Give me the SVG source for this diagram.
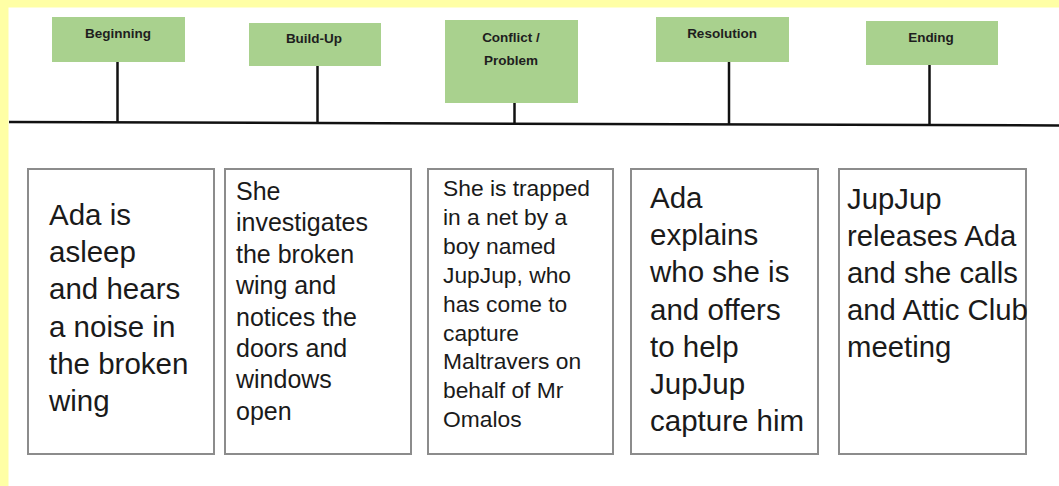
<svg xmlns="http://www.w3.org/2000/svg" width="1059" height="486" viewBox="0 0 1059 486">
  <style>
    .label { fill: #a9d18e; }
    .ltext { font-family: "Liberation Sans", Arial, sans-serif; font-weight: bold; font-size: 13.5px; fill: #1e1e1e; text-anchor: middle; }
    .card { fill: #ffffff; stroke: #8c8c8c; stroke-width: 2; }
    .ctext { font-family: "Liberation Sans", Arial, sans-serif; fill: #1a1a1a; }
    .conn { stroke: #111111; stroke-width: 2.5; fill: none; }
  </style>
  <rect x="0" y="0" width="1059" height="486" fill="#ffffff"/>
  <rect x="0" y="0" width="1059" height="7.5" fill="#ffffa5"/>
  <rect x="0" y="0" width="8.5" height="486" fill="#ffffa5"/>

  <g id="connectors">
    <line class="conn" x1="9" y1="122" x2="1059" y2="125.5" stroke-width="3"/>
    <line class="conn" x1="117.5" y1="62" x2="117.5" y2="122.5"/>
    <line class="conn" x1="317.5" y1="66" x2="317.5" y2="123"/>
    <line class="conn" x1="514.5" y1="103" x2="514.5" y2="124"/>
    <line class="conn" x1="729" y1="62" x2="729" y2="124"/>
    <line class="conn" x1="929.5" y1="65" x2="929.5" y2="125"/>
  </g>

  <g id="label-beginning">
    <rect class="label" x="52" y="17" width="133" height="45"/>
    <text class="ltext" x="118" y="38">Beginning</text>
  </g>
  <g id="label-buildup">
    <rect class="label" x="249" y="23" width="132" height="43"/>
    <text class="ltext" x="314" y="43">Build-Up</text>
  </g>
  <g id="label-conflict">
    <rect class="label" x="445" y="20" width="133" height="83"/>
    <text class="ltext" x="511" y="41.5">Conflict /</text>
    <text class="ltext" x="511" y="64.5">Problem</text>
  </g>
  <g id="label-resolution">
    <rect class="label" x="656" y="17" width="133" height="45"/>
    <text class="ltext" x="722" y="37.5">Resolution</text>
  </g>
  <g id="label-ending">
    <rect class="label" x="866" y="21" width="132" height="44"/>
    <text class="ltext" x="931" y="42">Ending</text>
  </g>

  <g id="card-beginning">
    <rect class="card" x="28" y="169" width="186" height="285"/>
    <text class="ctext" font-size="29.5" x="49">
      <tspan x="49" y="225">Ada is</tspan>
      <tspan x="49" y="262.2">asleep</tspan>
      <tspan x="49" y="299.4">and hears</tspan>
      <tspan x="49" y="336.6">a noise in</tspan>
      <tspan x="49" y="373.8">the broken</tspan>
      <tspan x="49" y="411">wing</tspan>
    </text>
  </g>
  <g id="card-buildup">
    <rect class="card" x="225" y="169" width="186" height="285"/>
    <text class="ctext" font-size="25">
      <tspan x="236" y="200">She</tspan>
      <tspan x="236" y="231.4">investigates</tspan>
      <tspan x="236" y="262.8">the broken</tspan>
      <tspan x="236" y="294.2">wing and</tspan>
      <tspan x="236" y="325.6">notices the</tspan>
      <tspan x="236" y="357">doors and</tspan>
      <tspan x="236" y="388.4">windows</tspan>
      <tspan x="236" y="419.8">open</tspan>
    </text>
  </g>
  <g id="card-conflict">
    <rect class="card" x="428" y="169" width="185" height="285"/>
    <text class="ctext" font-size="22.8">
      <tspan x="443" y="196">She is trapped</tspan>
      <tspan x="443" y="224.9">in a net by a</tspan>
      <tspan x="443" y="253.8">boy named</tspan>
      <tspan x="443" y="282.7">JupJup, who</tspan>
      <tspan x="443" y="311.6">has come to</tspan>
      <tspan x="443" y="340.5">capture</tspan>
      <tspan x="443" y="369.4">Maltravers on</tspan>
      <tspan x="443" y="398.3">behalf of Mr</tspan>
      <tspan x="443" y="427.2">Omalos</tspan>
    </text>
  </g>
  <g id="card-resolution">
    <rect class="card" x="631" y="169" width="187" height="285"/>
    <text class="ctext" font-size="29.5">
      <tspan x="650" y="208">Ada</tspan>
      <tspan x="650" y="245.2">explains</tspan>
      <tspan x="650" y="282.4">who she is</tspan>
      <tspan x="650" y="319.6">and offers</tspan>
      <tspan x="650" y="356.8">to help</tspan>
      <tspan x="650" y="394">JupJup</tspan>
      <tspan x="650" y="431.2">capture him</tspan>
    </text>
  </g>
  <g id="card-ending">
    <rect class="card" x="839" y="169" width="187" height="285"/>
    <text class="ctext" font-size="29.3">
      <tspan x="847" y="209">JupJup</tspan>
      <tspan x="847" y="246">releases Ada</tspan>
      <tspan x="847" y="283">and she calls</tspan>
      <tspan x="847" y="320">and Attic Club</tspan>
      <tspan x="847" y="357">meeting</tspan>
    </text>
  </g>
</svg>
